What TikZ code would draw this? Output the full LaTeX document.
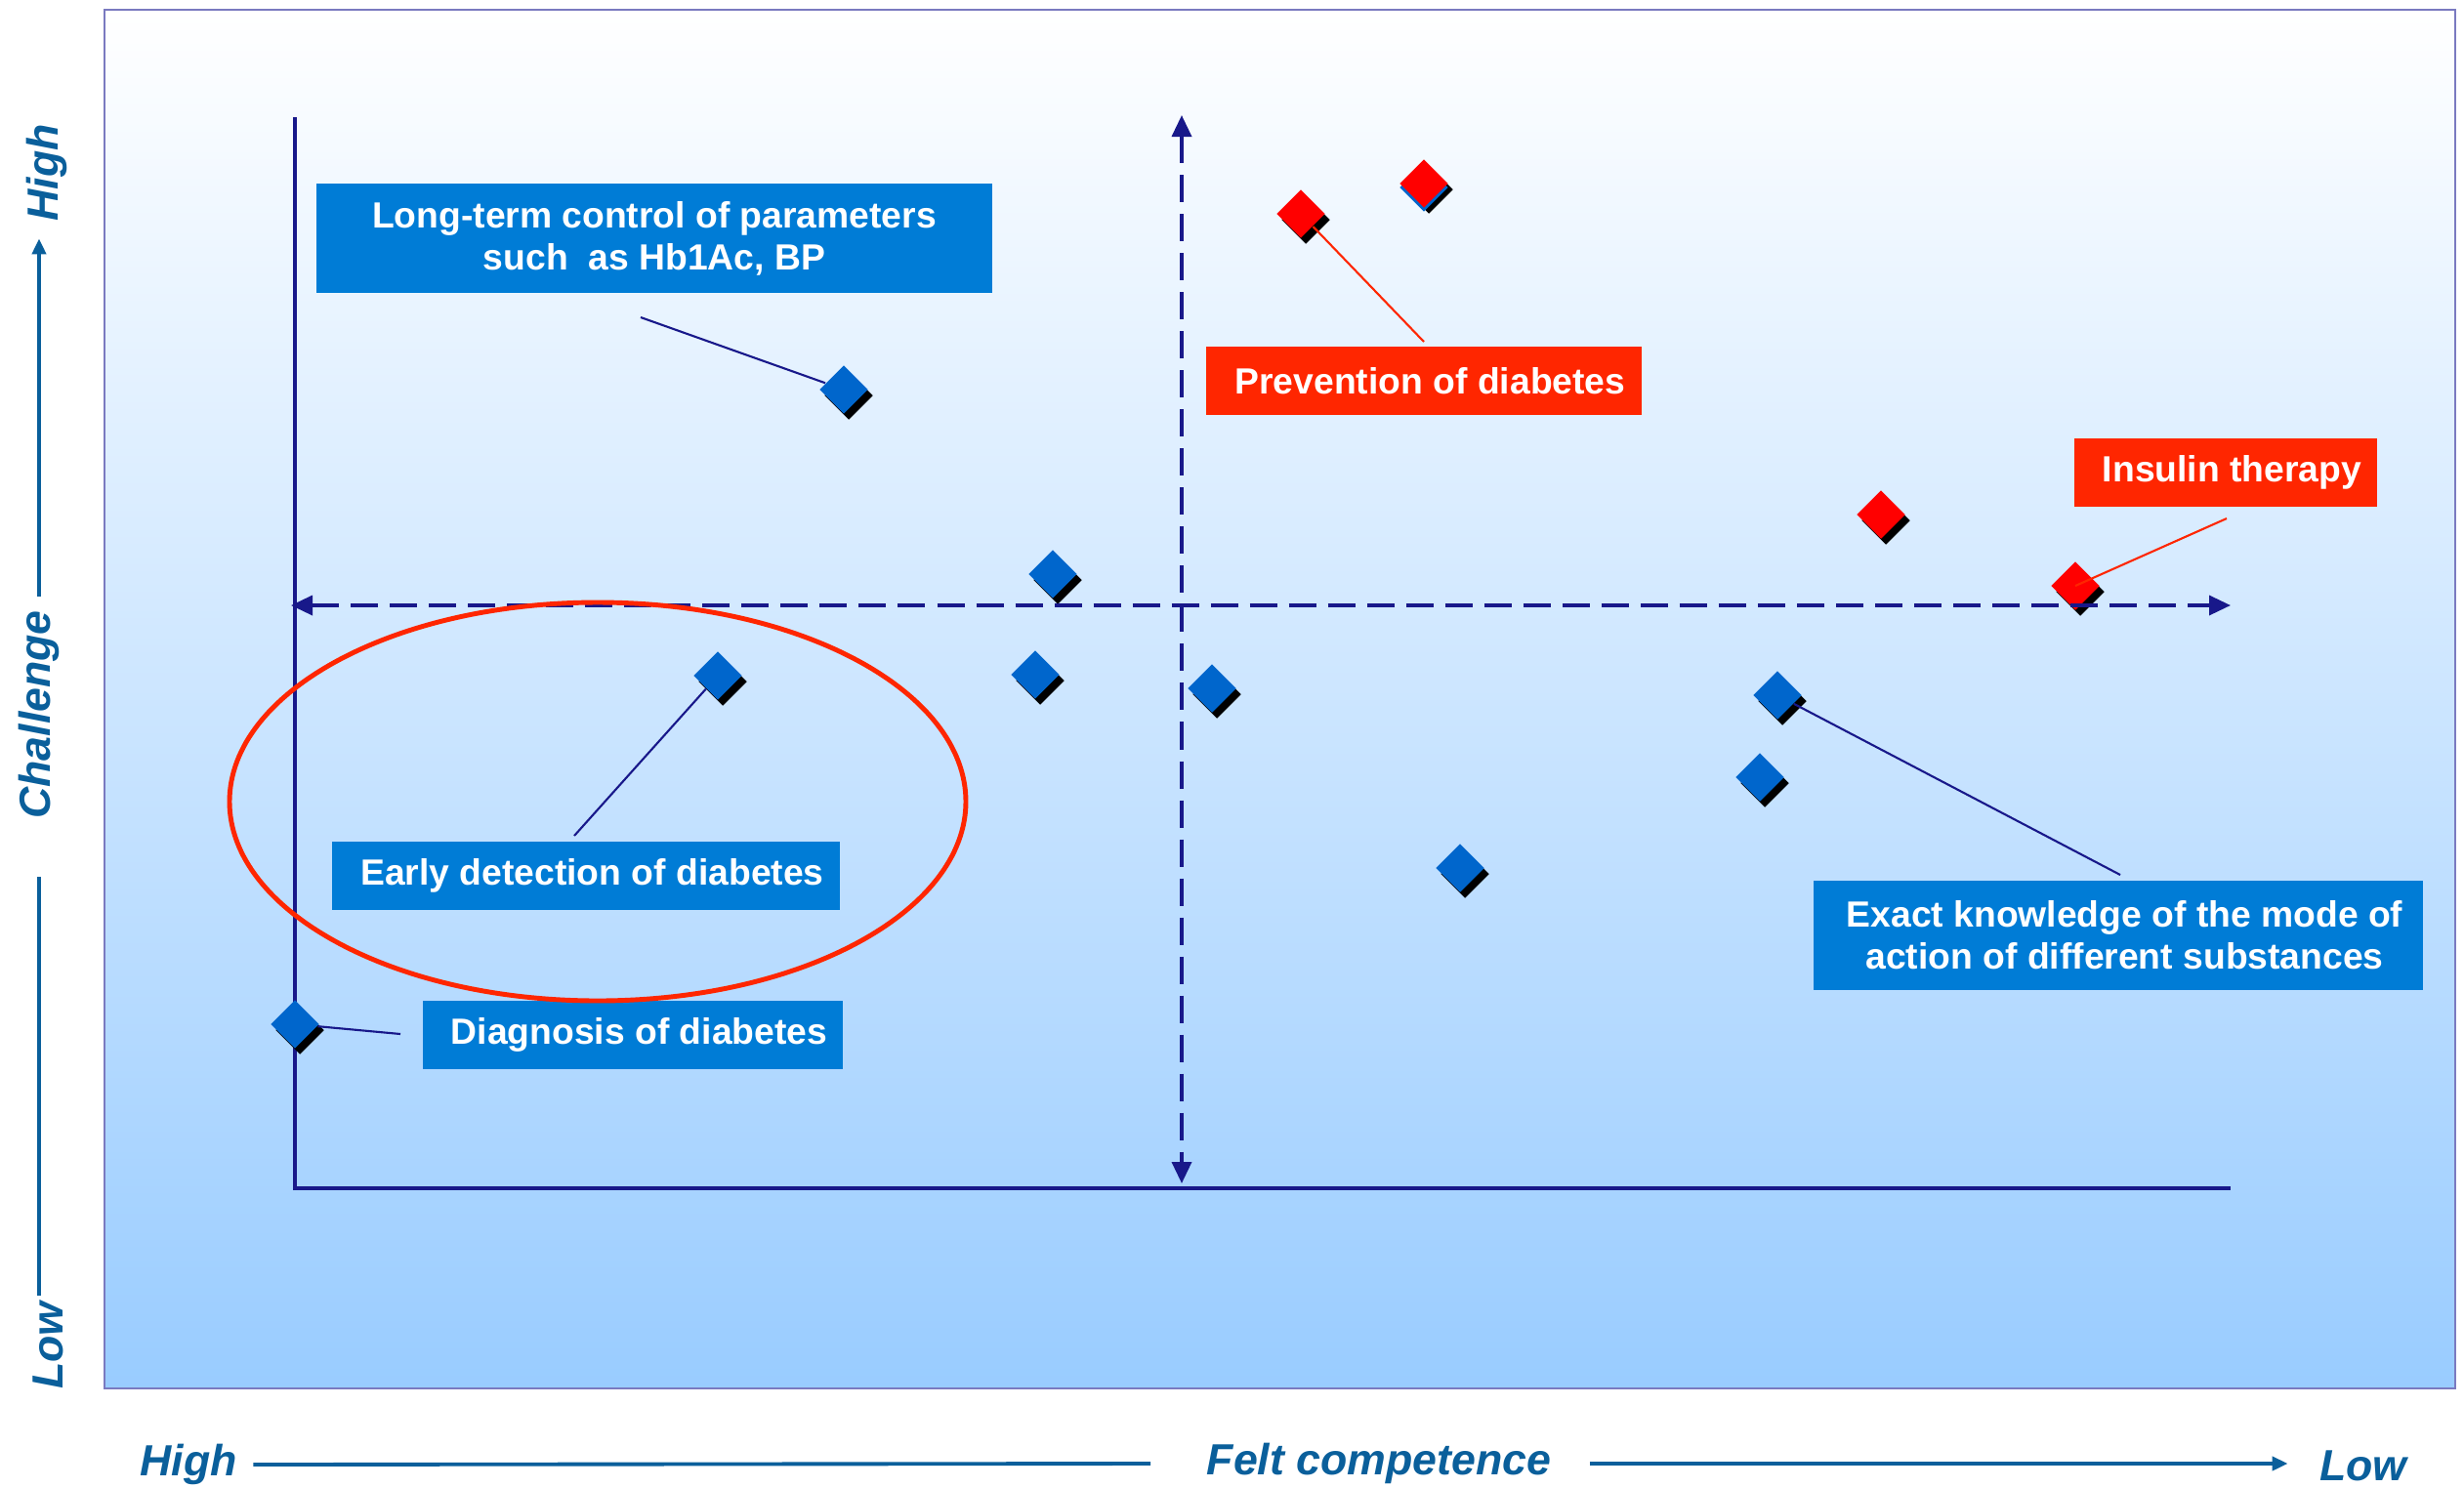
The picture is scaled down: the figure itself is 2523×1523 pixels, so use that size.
\documentclass[tikz,border=0pt]{standalone}
\usepackage{fontspec}
\setmainfont{Liberation Sans}
\usetikzlibrary{arrows.meta,shapes.geometric,shadows}
\definecolor{navy}{RGB}{24,24,138}
\definecolor{boxblue}{RGB}{0,124,214}
\definecolor{diablue}{RGB}{0,102,204}
\definecolor{boxred}{RGB}{255,38,0}
\definecolor{axtext}{RGB}{10,95,155}
\definecolor{frameline}{RGB}{122,122,192}
\definecolor{skyblue}{RGB}{153,204,255}
\newcommand{\lpad}{\hspace*{0.13cm}}

\begin{document}
\begin{tikzpicture}[x=0.01cm,y=-0.01cm,
		bluebox/.style={fill=boxblue,text=white,font=\fontsize{10.6}{12.2}\selectfont\bfseries,align=center,inner sep=0pt},
		redbox/.style={bluebox,fill=boxred},
		bdia/.style={diamond,fill=diablue,minimum size=0.5cm,inner sep=0pt,drop shadow={shadow xshift=0.05cm,shadow yshift=-0.06cm,fill=black,opacity=1}},
		rdia/.style={bdia,fill=red},
		bline/.style={navy,line width=0.6pt},
		rline/.style={boxred,line width=0.6pt},
		axis/.style={navy,line width=1.1pt},
		dashaxis/.style={navy,line width=1pt,dash pattern=on 0.28cm off 0.12cm,{Triangle[length=2.2mm,width=2mm]}-{Triangle[length=2.2mm,width=2mm]}},
		axlabel/.style={axtext,font=\fontsize{12.7}{14}\selectfont\bfseries\itshape,inner sep=0pt,text height=9.3pt,text depth=2.7pt},
		axline/.style={axtext,line width=1.1pt}]
			%%%%% START %%%%%
			
			\useasboundingbox (0,0) rectangle (2523,1523);
			\draw[frameline,line width=0.8pt,top color=white,bottom color=skyblue] (107,10) rectangle (2514,1422);
			
			% solid axes
			\draw[axis] (302,120) -- (302,1217) -- (2284,1217);
			
			% labels
			\node[bluebox,minimum width=6.91cm,minimum height=1.12cm] (ltc) at (670,244) {Long-term control of parameters\\such\ \ as Hb1Ac, BP};
			\node[redbox,minimum width=4.45cm,minimum height=0.69cm] (prv) at (1458,390) {\lpad Prevention of diabetes};
			\node[redbox,minimum width=3.10cm,minimum height=0.70cm] (ins) at (2279,484) {\lpad Insulin therapy};
			\node[bluebox,minimum width=5.19cm,minimum height=0.69cm] (erd) at (600,897) {\lpad Early detection of diabetes};
			\node[bluebox,minimum width=4.30cm,minimum height=0.70cm] (dgn) at (648,1060) {\lpad Diagnosis of diabetes};
			\node[bluebox,minimum width=6.24cm,minimum height=1.11cm] (exk) at (2169,958) {\lpad Exact knowledge of the mode of\\\lpad action of different substances};
			
			% diamonds
			\node[bdia] (d1) at (864,399) {};
			\node[bdia] (d2) at (1078,588) {};
			\node[bdia] (d3) at (1060,691) {};
			\node[bdia] (d4) at (735,692) {};
			\node[bdia] (d5) at (1241,705) {};
			\node[bdia] (d6) at (1820,712) {};
			\node[bdia] (d7) at (1802,796) {};
			\node[bdia] (d8) at (1495,889) {};
			\node[bdia] (d9) at (302,1049) {};
			
			\node[rdia] (r1) at (1332,219) {};
			\node[rdia,drop shadow={shadow xshift=0cm,shadow yshift=-0.04cm,fill=diablue,opacity=1}] (r2) at (1458,188) {};
			\node[rdia] (r3) at (1926,527) {};
			\node[rdia] (r4) at (2125,600) {};
			
			% pointers
			\coordinate (ltcend) at (656,325);
			\coordinate (prvend) at (1458,350);
			\coordinate (insend) at (2280,531);
			\coordinate (erdend) at (588,856);
			\coordinate (dgnend) at (410,1059);
			\coordinate (exkend) at (2171,896);
			
			\draw[bline] (ltcend) -- (d1);
			\draw[rline] (r1) -- (prvend);
			\draw[rline] (insend) -- (r4.center);
			\draw[bline] (erdend) -- (d4);
			\draw[bline] (d9) -- (dgnend);
			\draw[bline] (d6) -- (exkend);
			
			% dashed axes
			\draw[dashaxis] (1210,118) -- (1210,1212);
			\draw[dashaxis] (298,620) -- (2284,620);
			
			\draw[boxred,line width=1.4pt] (612,821) ellipse [x radius=377, y radius=204];
			
			% axis captions
			\node[axlabel,rotate=90] (hiy) at (48,177) {High};
			\node[axlabel,rotate=90] (chy) at (40,732) {Challenge};
			\node[axlabel,rotate=90] (loy) at (53,1378) {Low};
			\coordinate (hitip) at ([yshift=-0.17cm]hiy.west);
			\coordinate (lotip) at ([yshift=0.06cm]loy.east);
			\draw[axline,-{Triangle[length=1.6mm,width=1.4mm]}] ([yshift=0.14cm]chy.east) -- (chy.center |- hitip);
			\draw[axline] ([yshift=-0.59cm]chy.west) -- (chy.center |- lotip);
			
			\node[axlabel] (hix) at (193,1500) {High};
			\node[axlabel] (felt) at (1412,1499) {Felt competence};
			\node[axlabel] (lox) at (2420,1505) {Low};
			\coordinate (lxtip) at ([xshift=-0.32cm]lox.west);
			\draw[axline] ([xshift=0.16cm]hix.east) -- ([xshift=-0.57cm]felt.west);
			\draw[axline,-{Triangle[length=1.6mm,width=1.4mm]}] ([xshift=0.39cm]felt.east) -- (lxtip |- felt.east);
			
			%%%%% END %%%%%
		\end{tikzpicture}
\end{document}
